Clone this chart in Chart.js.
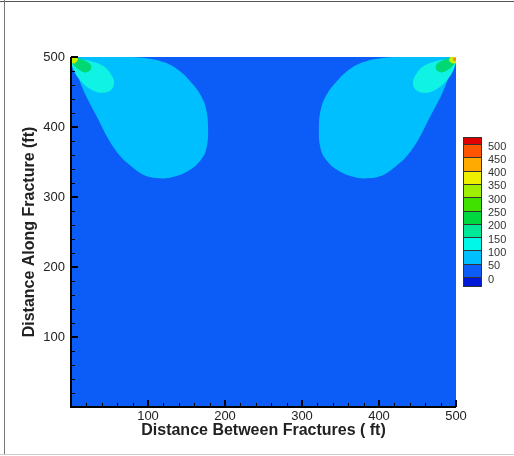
<!DOCTYPE html>
<html><head><meta charset="utf-8">
<script src="https://cdn.jsdelivr.net/npm/chart.js@4/dist/chart.umd.min.js"></script>
<style>html,body{margin:0;padding:0;background:#fff}canvas{display:block}</style>
</head><body>
<canvas id="c" width="514" height="456"></canvas>
<script>
// ---- tick labels ----
const xTickLabels = ['100', '200', '300', '400', '500'];
const yTickLabels = ['100', '200', '300', '400', '500'];
const legendLevels = ['500', '450', '400', '350', '300', '250', '200', '150', '100', '50', '0'];
const legendColors = ['#E00000', '#FF5500', '#FFAA00', '#EEF000', '#A0EE00', '#40E000', '#00D840', '#00E898', '#00F8E8', '#00BFFF', '#0C5CF7', '#0018D8'];

// ---- contour regions (ft) ----
const domainX = [0, 500, 500, 0];
const domainY = [0, 0, 500, 500];

const leftPlumeX = [0, 73, 100, 122, 140, 155, 167, 175, 178, 176, 168, 152, 130, 110, 92, 77, 65, 50, 34, 18, 9, 3];
const leftPlumeY = [500, 500, 498, 492, 481, 465, 448, 428, 400, 370, 352, 337, 328, 327, 333, 345, 357, 380, 414, 448, 472, 489];
const rightPlumeX = [500, 427, 400, 378, 360, 345, 333, 325, 322, 324, 332, 348, 370, 390, 408, 423, 435, 450, 466, 482, 491, 497];
const rightPlumeY = [500, 500, 498, 492, 481, 465, 448, 428, 400, 370, 352, 337, 328, 327, 333, 345, 357, 380, 414, 448, 472, 489];

const leftCoreX = [0, 10, 29, 42, 52, 56, 52, 42, 33, 24, 15, 8, 3, 0];
const leftCoreY = [497, 497, 493, 487, 475, 463, 453, 449, 450, 455, 463, 472, 482, 492];
const rightCoreX = [500, 490, 471, 458, 448, 444, 448, 458, 467, 476, 485, 492, 497, 500];
const rightCoreY = [497, 497, 493, 487, 475, 463, 453, 449, 450, 455, 463, 472, 482, 492];

const leftHotX = [1, 10, 20, 26, 25, 18, 10, 4, 1];
const leftHotY = [498, 498, 494, 488, 481, 478, 482, 488, 493];
const rightHotX = [499, 490, 480, 474, 475, 482, 490, 496, 499];
const rightHotY = [498, 498, 494, 488, 481, 478, 482, 488, 493];

const leftTipX = [0, 7, 9, 5, 0];
const leftTipY = [500, 500, 496, 491, 491];
const rightTipX = [500, 493, 491, 495, 500];
const rightTipY = [500, 500, 495, 491, 491];
const rightPeakX = [500, 497, 496, 500];
const rightPeakY = [499, 499, 495, 494];

const fieldColor = '#0C5CF7';
const plumeColor = '#00BFFF';
const coreColor = '#10F2E4';
const hotColor = '#00D874';
const tipColor = '#C8F000';
const peakColor = '#FF8C00';

function pts(xs, ys) { return xs.map((x, i) => ({x: x, y: ys[i]})); }
function region(xs, ys, color, order, tension) {
  return {
    type: 'line', data: pts(xs, ys), polyFill: color, order: order,
    borderWidth: 0, borderColor: 'rgba(0,0,0,0)', pointRadius: 0, pointHoverRadius: 0,
    fill: false, tension: tension
  };
}

const polyPlugin = {
  id: 'polyFill',
  beforeDatasetDraw(chart, args) {
    const ds = chart.data.datasets[args.index];
    const line = args.meta.dataset;
    if (!ds.polyFill || !line) return;
    const ctx = chart.ctx, a = chart.chartArea;
    line.updateControlPoints(a, 'x');
    ctx.save();
    ctx.beginPath(); ctx.rect(a.left, a.top, a.right - a.left, a.bottom - a.top); ctx.clip();
    ctx.beginPath();
    line.path(ctx);
    ctx.closePath();
    ctx.fillStyle = ds.polyFill;
    ctx.fill();
    ctx.restore();
  }
};

const frameStep = {minor: 20, major: 100};
const framePlugin = {
  id: 'frame',
  beforeDraw(chart) {
    const ctx = chart.ctx;
    ctx.save();
    ctx.fillStyle = '#fff'; ctx.fillRect(0, 0, chart.width, chart.height);
    ctx.lineWidth = 1;
    ctx.strokeStyle = '#555';
    ctx.beginPath(); ctx.moveTo(0, 1.5); ctx.lineTo(chart.width, 1.5); ctx.stroke();
    ctx.strokeStyle = '#777';
    ctx.beginPath(); ctx.moveTo(4.5, 0); ctx.lineTo(4.5, 454); ctx.stroke();
    ctx.strokeStyle = '#ccc';
    ctx.beginPath(); ctx.moveTo(0, 454.5); ctx.lineTo(chart.width, 454.5); ctx.stroke();
    ctx.restore();
  },
  afterDraw(chart) {
    const ctx = chart.ctx, a = chart.chartArea, xs = chart.scales.x, ys = chart.scales.y;
    ctx.save();
    ctx.strokeStyle = '#000';
    for (let v = xs.min; v <= xs.max; v += frameStep.minor) {
      const major = v % frameStep.major === 0;
      const px = Math.round(xs.getPixelForValue(v)) + (major ? 0 : 0.5);
      ctx.lineWidth = major ? 2 : 1;
      ctx.beginPath(); ctx.moveTo(px, a.bottom); ctx.lineTo(px, a.bottom - (major ? 7 : 4)); ctx.stroke();
    }
    for (let v = ys.min; v <= ys.max; v += frameStep.minor) {
      const major = v % frameStep.major === 0;
      const py = Math.round(ys.getPixelForValue(v)) + (major ? 0 : 0.5);
      ctx.lineWidth = major ? 2 : 1;
      ctx.beginPath(); ctx.moveTo(a.left, py); ctx.lineTo(a.left + (major ? 7 : 4), py); ctx.stroke();
    }
    ctx.lineWidth = 2;
    ctx.beginPath(); ctx.moveTo(a.left, a.top); ctx.lineTo(a.left, a.bottom); ctx.lineTo(a.right, a.bottom); ctx.stroke();

    // colour legend
    const L = {x: 463, w: 19, top: 137, first: 144, step: 13.3, bottom: 286, tx: 488};
    const n = legendColors.length;
    for (let i = 0; i < n; i++) {
      let y0, y1;
      if (i === 0) { y0 = L.top; y1 = L.first; }
      else if (i === n - 1) { y0 = L.first + (n - 2) * L.step; y1 = L.bottom; }
      else { y0 = L.first + (i - 1) * L.step; y1 = L.first + i * L.step; }
      ctx.fillStyle = legendColors[i];
      ctx.fillRect(L.x, Math.round(y0), L.w, Math.round(y1) - Math.round(y0));
      ctx.strokeStyle = '#333'; ctx.lineWidth = 1;
      ctx.strokeRect(L.x + 0.5, Math.round(y0) + 0.5, L.w - 1, Math.round(y1) - Math.round(y0));
    }
    ctx.fillStyle = '#333';
    ctx.font = '11px "Liberation Sans", Arial, sans-serif';
    ctx.textAlign = 'left'; ctx.textBaseline = 'middle';
    legendLevels.forEach((t, k) => { ctx.fillText(t, L.tx, L.first + k * L.step + 2.5); });
    ctx.restore();
  }
};

const font = '"Liberation Sans", Arial, sans-serif';
new Chart(document.getElementById('c'), {
  type: 'line',
  data: {
    datasets: [
      region(domainX, domainY, fieldColor, 9, 0),
      region(leftPlumeX, leftPlumeY, plumeColor, 8, 0.4),
      region(rightPlumeX, rightPlumeY, plumeColor, 8, 0.4),
      region(leftCoreX, leftCoreY, coreColor, 7, 0.4),
      region(rightCoreX, rightCoreY, coreColor, 7, 0.4),
      region(leftHotX, leftHotY, hotColor, 6, 0.4),
      region(rightHotX, rightHotY, hotColor, 6, 0.4),
      region(leftTipX, leftTipY, tipColor, 5, 0.3),
      region(rightTipX, rightTipY, tipColor, 5, 0.3),
      region(rightPeakX, rightPeakY, peakColor, 4, 0.3)
    ]
  },
  options: {
    responsive: false, animation: false, events: [],
    layout: {padding: {left: 0, right: 58, top: 57, bottom: 0}},
    plugins: {legend: {display: false}, tooltip: {enabled: false}},
    scales: {
      x: {
        type: 'linear', min: 0, max: 500,
        grid: {display: false, drawTicks: false},
        border: {display: false},
        ticks: {stepSize: 100, autoSkip: false, maxRotation: 0, padding: 2, color: '#222',
          font: {family: font, size: 13},
          callback: v => xTickLabels.includes(String(v)) ? String(v) : ''},
        title: {display: true, text: 'Distance Between Fractures ( ft)', color: '#222',
          font: {family: font, size: 16, weight: 'bold'}, padding: {top: 0, bottom: 16}},
        afterFit: s => { s.height = 49; }
      },
      y: {
        type: 'linear', min: 0, max: 500,
        grid: {display: false, drawTicks: false},
        border: {display: false},
        ticks: {stepSize: 100, autoSkip: false, padding: 6, color: '#222',
          font: {family: font, size: 13},
          callback: v => yTickLabels.includes(String(v)) ? String(v) : ''},
        title: {display: true, text: 'Distance Along Fracture (ft)', color: '#222',
          font: {family: font, size: 16, weight: 'bold'}, padding: {top: 20, bottom: 0}},
        afterFit: s => { s.width = 71; }
      }
    }
  },
  plugins: [polyPlugin, framePlugin]
});
</script>
</body></html>
